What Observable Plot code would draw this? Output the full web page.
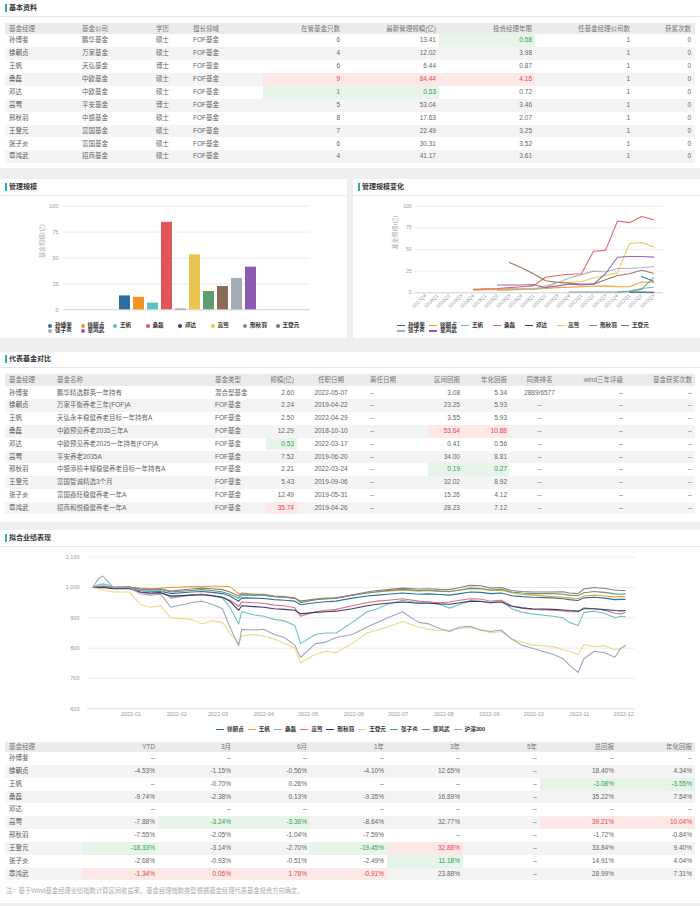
<!DOCTYPE html>
<html><head><meta charset="utf-8">
<script src="https://cdn.jsdelivr.net/npm/d3@7"></script>
<script src="https://cdn.jsdelivr.net/npm/@observablehq/plot@0.6"></script>
<style>
body{margin:0;background:#efefef;font-family:"Liberation Sans","Noto Sans CJK SC",sans-serif;}
#page{position:relative;width:700px;height:906px;background:#efefef;overflow:hidden}
.panel{position:absolute;background:#fff}
.ttl{position:absolute;font-size:7px;font-weight:bold;color:#333;height:10px;line-height:10px}
.mark{position:absolute;width:2px;height:8px;background:#1fb2b0}
.sep{position:absolute;height:1px;background:#e6e6e6}
.trow{position:absolute}
.cell{position:absolute;top:0;box-sizing:border-box;white-space:nowrap;overflow:hidden;font-size:6.5px;color:#666}
.cell.red{background:#fde8e8;color:#e0474c}
.cell.green{background:#e6f4e9;color:#33a050}
.chart{position:absolute}
.legend{position:absolute;display:flex;flex-wrap:wrap;font-size:5.6px;color:#333;font-weight:bold;line-height:5.4px}
.legend .it{display:flex;align-items:center;white-space:nowrap;height:5.4px}
.legend .dot{width:4px;height:4px;border-radius:50%;margin-right:3px}
.legend .ln{width:8px;height:1.4px;margin-right:3px}
.note{position:absolute;font-size:6.3px;color:#aaa}
</style>
</head><body><div id="page"></div>
<script>
// ---------------- data ----------------
const managers = ["孙博斐","徐朝贞","王帆","桑磊","邓达","高莺","邢秋羽","王登元","张子炎","章鸿武"];
const companies = ["鹏华基金","万家基金","天弘基金","中欧基金","中欧基金","平安基金","中银基金","富国基金","富国基金","招商基金"];
const education = ["硕士","硕士","博士","硕士","硕士","博士","硕士","硕士","硕士","硕士"];
const specialty = ["FOF基金","FOF基金","FOF基金","FOF基金","FOF基金","FOF基金","FOF基金","FOF基金","FOF基金","FOF基金"];
const fundCount = [6,4,6,9,1,5,8,7,6,4];
const aum = [13.41,12.02,6.44,84.44,0.53,53.04,17.63,22.49,30.31,41.17];
const tenureYears = [0.58,3.98,0.87,4.16,0.72,3.46,2.07,3.25,3.52,3.61];
const companyCount = [1,1,1,1,1,1,1,1,1,1];
const awardCount = [0,0,0,0,0,0,0,0,0,0];
const table1Headers = ["基金经理","基金公司","学历","擅长领域","在管基金只数","最新管理规模(亿)","投资经理年限","任基金经理公司数","获奖次数"];

const fundNames = ["鹏华精选群英一年持有","万家平衡养老三年(FOF)A","天弘永丰稳健养老目标一年持有A","中欧预见养老2035三年A","中欧预见养老2025一年持有(FOF)A","平安养老2035A","中银添禧丰禄稳健养老目标一年持有A","富国智诚精选3个月","富国鑫旺稳健养老一年A","招商和悦稳健养老一年A"];
const fundTypes = ["混合型基金","FOF基金","FOF基金","FOF基金","FOF基金","FOF基金","FOF基金","FOF基金","FOF基金","FOF基金"];
const fundSize = [2.60,2.24,2.50,12.29,0.53,7.52,2.21,5.43,12.49,35.74];
const startDates = ["2022-05-07","2019-04-22","2022-04-29","2018-10-10","2022-03-17","2019-06-20","2022-03-24","2019-09-06","2019-05-31","2019-04-26"];
const endDates = ["--","--","--","--","--","--","--","--","--","--"];
const periodReturn = [3.08,23.25,3.55,53.64,0.41,34.00,0.19,32.02,15.26,28.23];
const annualReturn = [5.34,5.93,5.93,10.88,0.56,8.81,0.27,8.92,4.12,7.12];
const peerRank = ["2889/6577","--","--","--","--","--","--","--","--","--"];
const windRating = ["--","--","--","--","--","--","--","--","--","--"];
const fundAwards = ["--","--","--","--","--","--","--","--","--","--"];
const table2Headers = ["基金经理","基金名称","基金类型","规模(亿)","任职日期","离任日期","区间回报","年化回报","同类排名","wind三年评级","基金获奖次数"];

const retYTD = [null,-4.53,null,-9.74,null,-7.88,-7.55,-18.33,-2.68,-1.34];
const ret3M  = [null,-1.15,-0.70,-2.38,null,-3.24,-2.05,-3.14,-0.93,0.06];
const ret6M  = [null,-0.56,0.26,0.13,null,-3.36,-1.04,-2.70,-0.51,1.76];
const ret1Y  = [null,-4.10,null,-9.35,null,-8.64,-7.59,-19.45,-2.49,-0.91];
const ret3Y  = [null,12.65,null,16.89,null,32.77,null,32.88,11.18,23.88];
const ret5Y  = [null,null,null,null,null,null,null,null,null,null];
const retTotal = [null,18.40,-3.08,35.22,null,39.21,-1.72,33.84,14.91,28.99];
const retAnn = [null,4.34,-3.55,7.54,null,10.04,-0.84,9.40,4.04,7.31];
const table3Headers = ["基金经理","YTD","3月","6月","1年","3年","5年","总回报","年化回报"];

const palette = ["#2c6fa3","#f39524","#5cc2c2","#e15759","#3b3f7a","#e8c54e","#5d9e70","#8d6c55","#a4acb5","#8a5bb3"];

// 管理规模变化 (quarterly, 亿)
const quarters = ["2017Q4","2018Q1","2018Q2","2018Q3","2018Q4","2019Q1","2019Q2","2019Q3","2019Q4","2020Q1","2020Q2","2020Q3","2020Q4","2021Q1","2021Q2","2021Q3","2021Q4","2022Q1","2022Q2","2022Q3"];
const hSunBofei   = [null,null,null,null,null,null,null,null,null,null,null,null,null,null,null,null,null,null,18.8,13.41];
const hXuChaozhen = [null,null,null,null,3,3.5,4,4.5,4.5,4.5,5,6,6.5,7,7.5,8,7,7,12.5,12.02];
const hWangFan    = [null,null,null,null,null,null,null,null,null,null,null,null,null,null,null,null,0.5,2,5,6.44];
const hSangLei    = [null,null,null,null,4,4.5,5,6,7,8,18,20,21.5,22,48,49,83,81,88,84.44];
const hDengDa     = [null,null,null,null,null,null,null,null,null,null,null,null,null,null,null,null,null,0.8,0.9,0.53];
const hGaoYing    = [null,null,null,null,null,null,3,3,4,4.5,8,12,12,13,17,20,23,57,58,53.04];
const hXingQiuyu  = [null,null,null,null,null,null,null,null,null,null,null,null,1,1,1,1,1,1.5,4,17.63];
const hWangDengyuan=[null,null,null,null,null,null,null,35,29,22,14,12,11,10,10,15,20,22,26,22.49];
const hZhangZiyan = [null,null,null,null,null,null,3,4,4,4,6,12,17,21,25,24,28,28,29,30.31];
const hZhangHongwu= [null,null,null,null,null,null,9,9,9,9.5,6,8,10,9,10,22,41,42,42,41.17];
const aumHistory = [hSunBofei,hXuChaozhen,hWangFan,hSangLei,hDengDa,hGaoYing,hXingQiuyu,hWangDengyuan,hZhangZiyan,hZhangHongwu];

// 拟合业绩表现
const perfDates = ["2021-12-06","2021-12-10","2021-12-13","2021-12-20","2021-12-31","2022-01-07","2022-01-14","2022-01-21","2022-01-28","2022-02-11","2022-02-18","2022-02-25","2022-03-04","2022-03-09","2022-03-15","2022-03-17","2022-03-25","2022-04-01","2022-04-08","2022-04-15","2022-04-22","2022-04-26","2022-05-06","2022-05-13","2022-05-20","2022-05-31","2022-06-10","2022-06-17","2022-06-24","2022-07-04","2022-07-15","2022-07-22","2022-07-29","2022-08-05","2022-08-12","2022-08-19","2022-08-26","2022-09-02","2022-09-09","2022-09-16","2022-09-23","2022-09-30","2022-10-14","2022-10-21","2022-10-25","2022-10-31","2022-11-04","2022-11-11","2022-11-18","2022-11-25","2022-11-29","2022-12-02"];
const perfNames = ["徐朝贞","王帆","桑磊","高莺","邢秋羽","王登元","张子炎","章鸿武","沪深300"];
const pXu  = [1000,1000,1001,997,998, 990,987,988,980, 985,987,984, 980,972,955,966,965, 964,960,958,955,943, 950,953,955,965, 972,975,978,982, 978,979,977, 975,980,985,984, 980,982,973,970,968, 966,963,960,957, 966,968,965,960,961,961];
const pWf  = [1000,998,999,997,1000, 998,997,998,1000, 1003,1003,1004, 1004,1003,980,978,975, 975,970,968,965,955, 960,962,965,975, 982,985,988,992, 988,990,988, 986,992,996,995, 990,991,983,978,975, 970,968,966,963, 972,975,972,969,970,970];
const pSl  = [1000,1010,1012,1003,1000, 992,988,990,965, 975,978,972, 965,935,880,920,910, 905,895,890,875,815, 845,850,850,885, 920,930,945,958, 950,952,945, 932,945,955,955, 950,957,930,918,913, 905,900,885,875, 918,922,915,900,905,904];
const pGy  = [1000,1002,1003,997,998, 985,980,982,970, 975,978,974, 968,958,938,952,950, 948,942,940,933,905, 920,925,928,940, 950,955,958,963, 955,953,950, 952,958,963,962, 955,958,940,932,928, 925,923,920,920, 933,930,925,915,913,918];
const pXq  = [1000,1000,1001,996,996, 985,982,983,972, 975,976,973, 968,955,925,940,937, 935,930,928,925,913, 918,920,922,930, 940,945,948,952, 948,948,946, 945,950,955,954, 950,952,938,933,930, 928,926,924,922, 930,930,927,924,923,924];
const pWdy = [1000,995,992,985,985, 945,935,940,900, 895,880,890, 885,850,815,840,845, 840,830,815,800,752, 780,790,785,815, 850,860,870,888, 870,862,858, 860,865,868,860, 850,855,830,820,810, 805,795,790,778, 812,805,808,795,800,809];
const pZzy = [1000,1004,1005,1000,1002, 995,993,994,985, 990,993,990, 985,978,965,975,975, 975,970,968,965,955, 962,965,966,975, 982,986,990,994, 990,990,988, 987,992,998,997, 992,994,985,982,980, 980,978,975,973, 983,987,984,979,978,979];
const pZhw = [1000,1003,1004,1000,1002, 995,993,995,988, 995,998,996, 993,985,972,982,978, 978,972,970,965,950, 960,963,965,975, 985,990,993,998, 995,996,994, 993,1000,1007,1006, 998,1000,990,987,985, 985,986,982,980, 995,1000,997,992,990,990];
const pHs  = [1000,1030,1038,1000,1000, 980,975,978,935, 950,955,945, 930,870,808,862,860, 862,845,835,810,770, 815,820,835,845, 870,885,900,920, 885,880,865, 855,870,872,860, 855,860,830,810,800, 780,765,745,720, 765,790,785,770,800,808];
const perfSeries = [pXu,pWf,pSl,pGy,pXq,pWdy,pZzy,pZhw,pHs];
const perfColors = ["#2c6fa3","#f0a030","#6cc4c4","#e2707a","#353d70","#ecd98a","#5d9e70","#957a80","#a3a5bd"];
const noteText = "注：基于Wind基金经理业绩指数计算区间收益率。基金经理指数类型根据基金经理代表基金投资方向确定。";

// ---------------- layout helpers ----------------
const page = document.getElementById("page");
function el(cls, css, text){ const d=document.createElement("div"); d.className=cls; d.style.cssText=css; if(text!=null) d.textContent=text; page.appendChild(d); return d; }
function panel(x,y,w,h,title,titleY,sepY){
  el("panel",`left:${x}px;top:${y}px;width:${w}px;height:${h}px`);
  el("mark",`left:${x+5}px;top:${titleY-4}px`);
  el("ttl",`left:${x+9}px;top:${titleY-5}px`,title);
  el("sep",`left:${x}px;top:${sepY}px;width:${w}px`);
}
function hiClasses(arr){
  const v = arr.filter(d=>d!=null && typeof d==="number");
  if(!v.length) return arr.map(()=> "");
  const mx = Math.max(...v), mn = Math.min(...v);
  if(mx===mn) return arr.map(()=> "");
  return arr.map(d=> d===mx ? "red" : d===mn ? "green" : "");
}
function buildTable(o){
  const {edges, aligns, pads, header, rows, headTop, headH, rowTop, rowH, hi} = o;
  const W = edges[edges.length-1]-edges[0];
  const mkRow=(top,h,bg)=>el("trow",`left:${edges[0]}px;top:${top}px;width:${W}px;height:${h}px;background:${bg}`);
  const mkCell=(row,c,text,h,cls,color)=>{
    const d=document.createElement("div"); d.className="cell "+(cls||"");
    d.style.cssText=`left:${edges[c]-edges[0]}px;width:${edges[c+1]-edges[c]}px;height:${h}px;line-height:${h}px;text-align:${aligns[c]};padding:0 ${pads[c]}px;${color?"color:"+color:""}`;
    d.textContent=text; row.appendChild(d);
  };
  const hr = mkRow(headTop, headH, "#ebebeb");
  header.forEach((t,c)=>mkCell(hr,c,t,headH,"","#777"));
  const hc = {}; Object.keys(hi||{}).forEach(k=>hc[k]=hiClasses(hi[k]));
  rows.forEach((r,i)=>{
    const rr = mkRow(rowTop+i*rowH, rowH, i%2 ? "#f4f4f4" : "#fff");
    r.forEach((t,c)=>mkCell(rr,c,t,rowH, hc[c]?hc[c][i]:"", c===0?"#555":null));
  });
}
const f2 = d=>d==null?"--":d.toFixed(2);
const pct = d=>d==null?"--":d.toFixed(2)+"%";

// ---------------- panels ----------------
panel(0,0,700,168,"基本资料",8.3,16);
panel(0,179,347,159,"管理规模",187.3,194.5);
panel(353,179,347,159,"管理规模变化",187.3,194.5);
panel(0,352,700,170,"代表基金对比",359.3,366.7);
panel(0,530,700,373,"拟合业绩表现",538.3,546);

// table 1
buildTable({
  edges:[5,78,152,189,263,343,439,535,633,695],
  aligns:["left","left","left","left","right","right","right","right","right"],
  pads:[4,4,4,4,3,3,3,3,4],
  header:table1Headers,
  rows:managers.map((m,i)=>[m,companies[i],education[i],specialty[i],String(fundCount[i]),f2(aum[i]),f2(tenureYears[i]),String(companyCount[i]),String(awardCount[i])]),
  headTop:23.3, headH:11, rowTop:34.3, rowH:12.9,
  hi:{4:fundCount,5:aum,6:tenureYears,7:companyCount,8:awardCount}
});

// table 2
buildTable({
  edges:[5,52,210,266,297,365,428,463,509,570,628,695],
  aligns:["left","left","left","right","center","left","right","right","center","right","right"],
  pads:[4,5,5,3,2,5,3,2,2,5,3],
  header:table2Headers,
  rows:managers.map((m,i)=>[m,fundNames[i],fundTypes[i],f2(fundSize[i]),startDates[i],endDates[i],f2(periodReturn[i]),f2(annualReturn[i]),peerRank[i],windRating[i],fundAwards[i]]),
  headTop:374, headH:12, rowTop:386.5, rowH:12.8,
  hi:{3:fundSize,6:periodReturn,7:annualReturn}
});

// table 3
buildTable({
  edges:[5,82,158,234,310,387,463,540,617,695],
  aligns:["left","right","right","right","right","right","right","right","right"],
  pads:[4,3,3,3,3,3,3,3,3],
  header:table3Headers,
  rows:managers.map((m,i)=>[m,pct(retYTD[i]),pct(ret3M[i]),pct(ret6M[i]),pct(ret1Y[i]),pct(ret3Y[i]),pct(ret5Y[i]),pct(retTotal[i]),pct(retAnn[i])]),
  headTop:741.5, headH:10.5, rowTop:752, rowH:12.85,
  hi:{1:retYTD,2:ret3M,3:ret6M,4:ret1Y,5:ret3Y,6:ret5Y,7:retTotal,8:retAnn}
});
el("note","left:6px;top:886px",noteText);

// ---------------- charts ----------------
const font = `"Liberation Sans","Noto Sans CJK SC",sans-serif`;
function place(svg, x, y){ const d=el("chart",`left:${x}px;top:${y}px`); d.appendChild(svg); }

// bar chart
const barData = managers.map((m,i)=>({m, v: aum[i]}));
const bar = Plot.plot({
  width:347, height:119, marginTop:9.7, marginBottom:5.7, marginLeft:63, marginRight:37,
  style:{fontFamily:font, fontSize:"5.5px", color:"#999", background:"transparent"},
  x:{domain:managers, range:[113.6,260.4], paddingInner:0.25, paddingOuter:0.125, axis:null},
  y:{domain:[0,100], ticks:[0,25,50,75,100], tickSize:0, tickPadding:5, label:null},
  color:{domain:managers, range:palette},
  marks:[
    Plot.ruleY([25,50,75,100],{stroke:"#ececec"}),
    Plot.ruleY([0],{stroke:"#cfcfcf"}),
    Plot.barY(barData,{x:"m", y:"v", fill:"m"}),
    Plot.text(["基金规模(亿)"],{frameAnchor:"left", dx:-21, rotate:-90, fill:"#aaa", fontSize:6})
  ]
});
place(bar,0,196);

// aum history lines
const hist = [];
managers.forEach((m,i)=>aumHistory[i].forEach((v,j)=>{ if(v!=null) hist.push({m, q:quarters[j], v}); }));
const lc = Plot.plot({
  width:347, height:126, marginTop:9.7, marginBottom:29.7, marginLeft:61, marginRight:37,
  style:{fontFamily:font, fontSize:"5px", color:"#999", background:"transparent"},
  x:{type:"point", domain:quarters, padding:0.5, tickRotate:-45, tickSize:0, tickPadding:2, label:null},
  y:{domain:[0,100], ticks:[0,25,50,75,100], tickSize:0, tickPadding:3, label:null},
  color:{domain:managers, range:palette},
  marks:[
    Plot.ruleY([25,50,75,100],{stroke:"#ececec"}),
    Plot.ruleY([0],{stroke:"#cfcfcf"}),
    Plot.line(hist,{x:"q", y:"v", z:"m", stroke:"m", strokeWidth:1.1, strokeOpacity:0.9}),
    Plot.text(["基金规模(亿)"],{frameAnchor:"left", dx:-19.7, rotate:-90, fill:"#aaa", fontSize:6})
  ]
});
place(lc,353,196);

// performance lines
const perf = [];
perfNames.forEach((n,i)=>perfSeries[i].forEach((v,j)=>perf.push({n, d:new Date(perfDates[j]), v})));
const pc = Plot.plot({
  width:700, height:174, marginTop:8.7, marginBottom:13.7, marginLeft:87, marginRight:65,
  style:{fontFamily:font, fontSize:"5.5px", color:"#999", background:"transparent"},
  x:{type:"utc", domain:[new Date("2021-12-02T12:00Z"), new Date("2022-12-09")], ticks:d3.utcMonth.every(1), tickFormat:d3.utcFormat("%Y-%m"), tickSize:0, tickPadding:3, label:null},
  y:{domain:[600,1100], ticks:[600,700,800,900,1000,1100], tickFormat:d3.format(","), tickSize:0, tickPadding:8, label:null},
  color:{domain:perfNames, range:perfColors},
  marks:[
    Plot.ruleY([700,800,900,1000,1100],{stroke:"#ececec"}),
    Plot.ruleY([600],{stroke:"#dcdcdc"}),
    Plot.line(perf,{x:"d", y:"v", z:"n", stroke:"n", strokeWidth:1.1})
  ]
});
place(pc,0,548);

// ---------------- legends ----------------
function legend(x,y,w,names,colors,kind,itemW,justify){
  const L = el("legend",`left:${x}px;top:${y}px;width:${w}px;justify-content:${justify||"flex-start"}`);
  names.forEach((n,i)=>{
    const it=document.createElement("div"); it.className="it";
    if(itemW) it.style.width=itemW+"px"; else it.style.marginRight="4px";
    const mk=document.createElement("div"); mk.className=kind; mk.style.background=colors[i];
    const t=document.createElement("span"); t.textContent=n;
    it.appendChild(mk); it.appendChild(t); L.appendChild(it);
  });
}
legend(48,323,270,managers,palette,"dot",32.5);
legend(397,323,270,managers,palette,"ln",32);
legend(150,726.5,405,perfNames,perfColors,"ln",null,"center");
</script></body></html>
